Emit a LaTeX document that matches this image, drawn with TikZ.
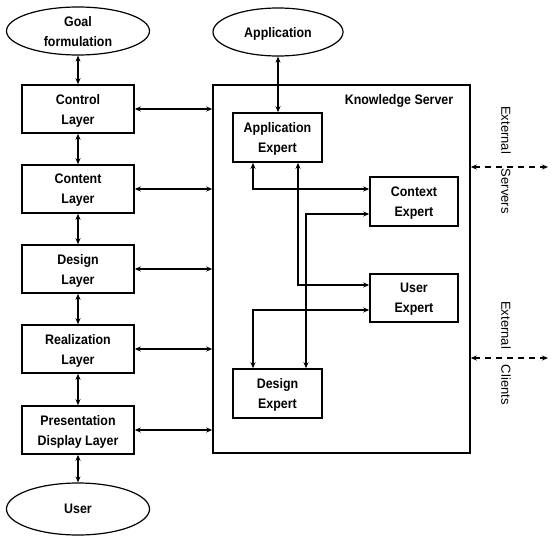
\documentclass[tikz,border=0pt]{standalone}
\usepackage{fontspec}
\setmainfont{Liberation Sans}[FakeStretch=0.9]
\newfontfamily\extfont{Liberation Sans}
\usetikzlibrary{shapes.geometric,arrows.meta}
\begin{document}
\begin{tikzpicture}[x=1pt,y=-1pt,
  font=\fontsize{13.8}{20}\selectfont\bfseries,
  line width=1.6pt,
  box/.style={draw, minimum width=112pt, minimum height=48pt, align=center, inner sep=0pt, text depth=0pt},
  xbox/.style={draw, minimum width=89pt, minimum height=49pt, align=center, inner sep=0pt, text depth=0pt},
  oval/.style={draw, ellipse, minimum width=143pt, minimum height=48pt, align=center, inner sep=0pt, line width=1.2pt, text depth=0pt},
  conn/.style={{Stealth[length=6pt,width=5pt]}-{Stealth[length=6pt,width=5pt]}},
  ext/.style={rotate=-90, font=\extfont\fontsize{13}{16}\selectfont}]
\useasboundingbox (0,0) rectangle (556,538);
% left column
\node[oval] (goal) at (78,31) {Goal\\formulation};
\node[box] (ctrl) at (78,109) {Control\\Layer};
\node[box] (cont) at (78,189) {Content\\Layer};
\node[box] (des) at (78,269) {Design\\Layer};
\node[box] (real) at (78,349) {Realization\\Layer};
\node[box] (pres) at (78,430) {Presentation\\Display Layer};
\node[oval, minimum height=52pt] (user) at (78,509) {User};
% server
\node[oval, minimum width=130pt] (app) at (278,32) {Application};
\node[draw, minimum width=257pt, minimum height=368pt, inner sep=0pt] (ks) at (341.5,269) {};
\node (kslab) at (399,101) {Knowledge Server};
\node[xbox] (appx) at (277.5,137.5) {Application\\Expert};
\node[xbox, minimum width=88pt] (ctx) at (414,201.5) {Context\\Expert};
\node[xbox, minimum width=88pt, minimum height=48pt] (usx) at (414,298) {User\\Expert};
\node[xbox] (dsx) at (277.5,393.5) {Design\\Expert};
% vertical chain
\draw[conn] (goal) -- (ctrl);
\draw[conn] (ctrl) -- (cont);
\draw[conn] (cont) -- (des);
\draw[conn] (des) -- (real);
\draw[conn] (real) -- (pres);
\draw[conn] (pres) -- (user);
% layers to server
\foreach \n in {ctrl,cont,des,real,pres}
  \draw[conn] (\n.east) -- (\n.east -| ks.west);
% application
\draw[conn] (app.south) -- (app.south |- appx.north);
% expert links
\coordinate (b1) at (253,189);
\coordinate (b2) at (306,214);
\coordinate (b3) at (298,285);
\coordinate (b4) at (253,310);
\draw[conn] (appx.south -| b1) -- (b1) -- (b1 -| ctx.west);
\draw[conn] (ctx.west |- b2) -- (b2) -- (b2 |- dsx.north);
\draw[conn] (appx.south -| b3) -- (b3) -- (b3 -| usx.west);
\draw[conn] (usx.west |- b4) -- (b4) -- (b4 |- dsx.north);
% external
\coordinate (es) at (548,167);
\coordinate (ec) at (548,358);
\draw[conn, dash pattern=on 6pt off 5pt] (ks.east |- es) -- (es);
\draw[conn, dash pattern=on 6pt off 5pt] (ks.east |- ec) -- (ec);
\node[ext] (exts) at (506,160) {External\hspace{15pt}Servers};
\node[ext] (extc) at (506,353) {External\hspace{16pt}Clients};
\end{tikzpicture}
\end{document}
